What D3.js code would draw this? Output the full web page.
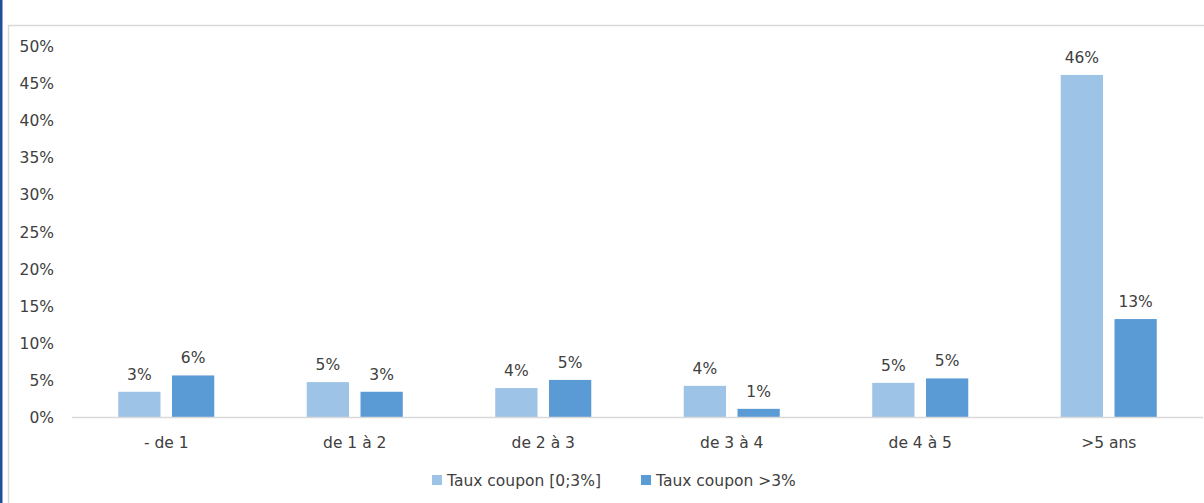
<!DOCTYPE html>
<html>
<head>
<meta charset="utf-8">
<script src="https://cdn.jsdelivr.net/npm/d3@7"></script>
<style>
  html, body { margin: 0; padding: 0; background: #fff; }
  svg { display: block; }
  text { font-family: "DejaVu Sans", "Open Sans", sans-serif; fill: #404040; }
</style>
</head>
<body>
<svg id="chart" width="1204" height="503"></svg>
<script>
// Répartition par maturité résiduelle et par niveau de coupon
const categories = ["- de 1", "de 1 à 2", "de 2 à 3", "de 3 à 4", "de 4 à 5", ">5 ans"];
const seriesNames = ["Taux coupon [0;3%]", "Taux coupon >3%"];
const lowCoupon = [3.4, 4.7, 3.9, 4.2, 4.6, 46.1];
const highCoupon = [5.6, 3.4, 5.0, 1.1, 5.2, 13.2];
const yTicks = [0, 5, 10, 15, 20, 25, 30, 35, 40, 45, 50];
const colors = ["#9dc3e6", "#5b9bd5"];

const FONT = "\"DejaVu Sans\", sans-serif";
const FS = "15.5px";
const TXT = "#404040";

const svg = d3.select("#chart");
const W = 1204, H = 503;

// frame: blue edge on the left, light grey chart border
svg.append("rect").attr("x", 0).attr("y", 0).attr("width", 2.5).attr("height", H).attr("fill", "#1f4e9c");
svg.append("rect").attr("x", 8.5).attr("y", 25.5).attr("width", W + 10).attr("height", H + 10)
  .attr("fill", "none").attr("stroke", "#d9d9d9").attr("stroke-width", 1.5);

const plotLeft = 72, plotRight = 1203;
const y = d3.scaleLinear().domain([0, 50]).range([417, 46]);
const x0 = d3.scaleBand().domain(categories).range([plotLeft, plotRight]).padding(0);
const x1 = d3.scaleBand().domain(seriesNames).range([0, x0.bandwidth()])
  .paddingInner(0.214).paddingOuter(0.86);

const rows = categories.map((c, i) => ({
  cat: c,
  values: [
    { s: seriesNames[0], v: lowCoupon[i], color: colors[0] },
    { s: seriesNames[1], v: highCoupon[i], color: colors[1] }
  ]
}));

// y axis (labels only, no line)
const yAxis = d3.axisLeft(y).tickValues(yTicks).tickFormat(d => d + "%").tickSize(0).tickPadding(0);
const gy = svg.append("g").attr("transform", "translate(54,0)").call(yAxis);
gy.select(".domain").remove();
gy.selectAll("text").style("font-family", FONT).style("font-size", FS)
  .attr("fill", TXT).attr("dy", "0.36em");

// bars
const groups = svg.append("g").selectAll("g").data(rows).join("g")
  .attr("transform", d => `translate(${x0(d.cat)},0)`);

groups.selectAll("rect").data(d => d.values).join("rect")
  .attr("x", d => x1(d.s))
  .attr("y", d => y(d.v))
  .attr("width", x1.bandwidth())
  .attr("height", d => y(0) - y(d.v))
  .attr("fill", d => d.color);

groups.selectAll("text.val").data(d => d.values).join("text")
  .attr("class", "val")
  .attr("x", d => x1(d.s) + x1.bandwidth() / 2)
  .attr("y", d => y(d.v) - 12)
  .attr("text-anchor", "middle")
  .style("font-size", FS)
  .text(d => Math.round(d.v) + "%");

// category axis
svg.append("line").attr("x1", plotLeft).attr("x2", plotRight).attr("y1", y(0) + 0.5).attr("y2", y(0) + 0.5)
  .attr("stroke", "#d9d9d9").attr("stroke-width", 1.5);
const xAxis = d3.axisBottom(x0).tickSize(0).tickPadding(0);
const gx = svg.append("g").attr("transform", `translate(0,${y(0)})`).call(xAxis);
gx.select(".domain").remove();
gx.selectAll("text").style("font-family", FONT).style("font-size", FS)
  .attr("fill", TXT).attr("y", 20).attr("dy", "0.71em");

// legend
const legendItems = [
  { name: seriesNames[0], color: colors[0], x: 432 },
  { name: seriesNames[1], color: colors[1], x: 641 }
];
const lg = svg.append("g").selectAll("g").data(legendItems).join("g")
  .attr("transform", d => `translate(${d.x},475)`);
lg.append("rect").attr("width", 10).attr("height", 10).attr("fill", d => d.color);
lg.append("text").attr("x", 15).attr("y", 5).attr("dy", "0.36em")
  .style("font-size", FS).text(d => d.name);
</script>
</body>
</html>
